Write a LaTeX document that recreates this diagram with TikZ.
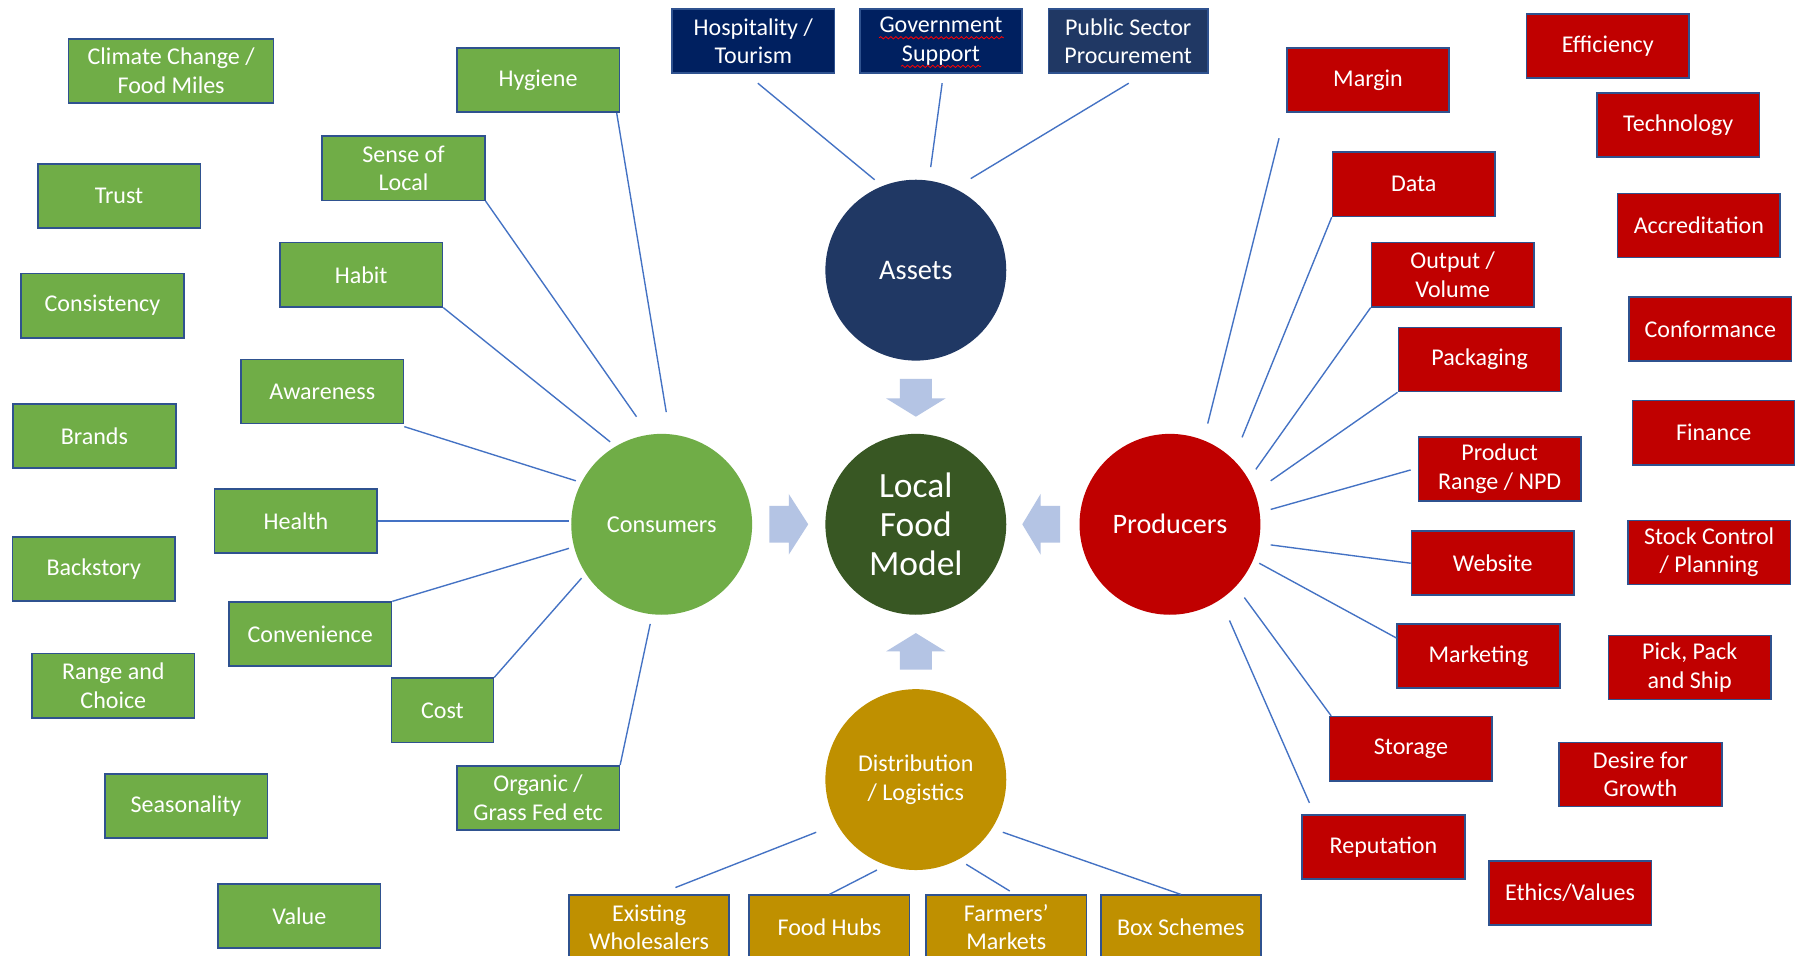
\documentclass[tikz,border=0pt]{standalone}
\usepackage{fontspec}
\setmainfont{Carlito}
\usetikzlibrary{calc,decorations.pathmorphing}
\definecolor{cgreen}{HTML}{70AD47}
\definecolor{cred}{HTML}{C00000}
\definecolor{cgold}{HTML}{BF9000}
\definecolor{cnavy}{HTML}{002060}
\definecolor{cnavyb}{HTML}{203864}
\definecolor{cdkgreen}{HTML}{385723}
\definecolor{boxline}{HTML}{2F528F}
\definecolor{conncol}{HTML}{4472C4}
\definecolor{blockcol}{HTML}{B4C4E4}
\newcommand{\bxfont}{\fontsize{10.5}{12.5}\selectfont}
\tikzset{
  box/.style={rectangle, draw=boxline, line width=0.7pt, text=white, align=center,
    minimum width=71pt, minimum height=28pt, inner sep=1pt, font=\bxfont},
  gbox/.style={box, fill=cgreen},
  rbox/.style={box, fill=cred},
  nbox/.style={box, fill=cnavy},
  ybox/.style={box, fill=cgold},
  hub/.style={circle, minimum size=79pt, inner sep=0pt, text=white, align=center},
  conn/.style={draw=conncol, line width=0.6pt},
  blockarrow/.style={fill=blockcol, draw=none},
  squiggle/.style={draw=red, line width=0.35pt, decorate,
    decoration={snake, segment length=2.2pt, amplitude=0.5pt}}
}
\begin{document}
\begin{tikzpicture}[x=0.5pt,y=-0.5pt]
\useasboundingbox (0,0) rectangle (1568,835);
\clip (0,0) rectangle (1568,835);
\fill[white] (0,0) rectangle (1568,835);

% hubs
\node[hub, fill=cnavyb, font=\fontsize{12.4}{14}\selectfont] (assets) at (800,236) {Assets};
\node[hub, fill=cdkgreen, font=\fontsize{15.5}{17}\selectfont] (model) at (800,458) {Local\\Food\\Model};
\node[hub, fill=cgreen, font=\fontsize{10.6}{12.5}\selectfont] (cons) at (578,458) {Consumers};
\node[hub, fill=cred, font=\fontsize{12.3}{14}\selectfont] (prod) at (1022,458) {Producers};
\node[hub, fill=cgold, font=\bxfont] (dist) at (800,681) {Distribution\\/ Logistics};

% block arrows
\path[blockarrow] (786,331) -- (814,331) -- (814,348) -- (826,348) -- (800,364) -- (774,348) -- (786,348) -- cycle;
\path[blockarrow] (786,585) -- (814,585) -- (814,569) -- (826,569) -- (800,553) -- (774,569) -- (786,569) -- cycle;
\path[blockarrow] (672,442) -- (689,442) -- (689,431.5) -- (706,458) -- (689,484.5) -- (689,474) -- (672,474) -- cycle;
\path[blockarrow] (926,442) -- (909,442) -- (909,431.5) -- (893,458) -- (909,484.5) -- (909,474) -- (926,474) -- cycle;

% top (assets) boxes
\node[nbox] (hosp) at (658,36) {Hospitality /\\Tourism};
\node[nbox] (gov) at (822,36) {Government\\Support};
\node[box, fill=cnavyb, minimum width=69.5pt] (public) at (985.5,36) {Public Sector\\Procurement};
\path[squiggle] ($(gov.center)+(-54,-3)$) -- ($(gov.center)+(55,-3)$);
\path[squiggle] ($(gov.center)+(-35,22)$) -- ($(gov.center)+(35,22)$);

\draw[conn] ($(hosp.south)+(4,8)$) -- ($(assets.center)+(-36,-79)$);
\draw[conn] ($(gov.south)+(1,8)$) -- ($(assets.center)+(13,-90)$);
\draw[conn] ($(public.south)+(0.5,8)$) -- ($(assets.center)+(48,-80)$);

% consumer boxes
\node[gbox, minimum width=89.5pt] (climate) at (149.5,62) {Climate Change /\\Food Miles};
\node[gbox] (hygiene) at (470,70) {Hygiene};
\node[gbox] (sense) at (352.5,147) {Sense of\\Local};
\node[gbox] (trust) at (104,171) {Trust};
\node[gbox] (habit) at (315.5,240) {Habit};
\node[gbox] (consistency) at (89.5,267) {Consistency};
\node[gbox] (awareness) at (281.5,342) {Awareness};
\node[gbox] (brands) at (82.5,381) {Brands};
\node[gbox] (health) at (258.5,455) {Health};
\node[gbox] (backstory) at (82,497) {Backstory};
\node[gbox] (convenience) at (271,554) {Convenience};
\node[gbox] (range) at (99,599) {Range and\\Choice};
\node[gbox, minimum width=44.5pt] (cost) at (386.5,620.5) {Cost};
\node[gbox] (organic) at (470,697) {Organic /\\Grass Fed etc};
\node[gbox] (seasonality) at (162.5,704) {Seasonality};
\node[gbox] (value) at (261.5,800) {Value};

\draw[conn] ($(hygiene.south east)+(-3,0)$) -- ($(cons.center)+(4,-98)$);
\draw[conn] (sense.south east) -- ($(cons.center)+(-22,-94)$);
\draw[conn] (habit.south east) -- ($(cons.center)+(-45,-72)$);
\draw[conn] ($(awareness.south east)+(0,2)$) -- ($(cons.center)+(-75,-38)$);
\draw[conn] (health.east) -- ($(cons.center)+(-81,-3)$);
\draw[conn] (convenience.north east) -- ($(cons.center)+(-81,21)$);
\draw[conn] (cost.north east) -- ($(cons.center)+(-70,47)$);
\draw[conn] (organic.north east) -- ($(cons.center)+(-10,87)$);

% producer boxes
\node[rbox] (margin) at (1195,70) {Margin};
\node[rbox] (efficiency) at (1404.5,40) {Efficiency};
\node[rbox] (technology) at (1466,109) {Technology};
\node[rbox] (data) at (1235,161) {Data};
\node[rbox] (accreditation) at (1484,197) {Accreditation};
\node[rbox] (output) at (1269,240) {Output /\\Volume};
\node[rbox] (conformance) at (1494,287.5) {Conformance};
\node[rbox] (packaging) at (1292.5,314) {Packaging};
\node[rbox] (finance) at (1497,378) {Finance};
\node[rbox] (product) at (1310,409.5) {Product\\Range / NPD};
\node[rbox] (website) at (1304,492) {Website};
\node[rbox] (stock) at (1493,482.5) {Stock Control\\/ Planning};
\node[rbox] (marketing) at (1291.5,573) {Marketing};
\node[rbox] (pick) at (1476,583) {Pick, Pack\\and Ship};
\node[rbox] (storage) at (1232.5,654) {Storage};
\node[rbox] (desire) at (1433,676.5) {Desire for\\Growth};
\node[rbox] (reputation) at (1208.5,740) {Reputation};
\node[rbox] (ethics) at (1371.5,780) {Ethics/Values};

\draw[conn] ($(margin.south west)+(-6,22)$) -- ($(prod.center)+(33,-88)$);
\draw[conn] (data.south west) -- ($(prod.center)+(63,-76)$);
\draw[conn] (output.south west) -- ($(prod.center)+(75,-48)$);
\draw[conn] (packaging.south west) -- ($(prod.center)+(88,-38)$);
\draw[conn] ($(product.west)+(-6,1)$) -- ($(prod.center)+(88,-13)$);
\draw[conn] (website.west) -- ($(prod.center)+(88,18)$);
\draw[conn] ($(marketing.north west)+(0,13)$) -- ($(prod.center)+(78,34)$);
\draw[conn] ($(storage.north west)+(2,0)$) -- ($(prod.center)+(65,64)$);
\draw[conn] ($(reputation.north west)+(7,-10)$) -- ($(prod.center)+(52,84)$);

% distribution boxes
\node[ybox, minimum width=70pt] (exist) at (567,810) {Existing\\Wholesalers};
\node[ybox, minimum width=70pt] (hubs) at (724.5,810) {Food Hubs};
\node[ybox, minimum width=70pt] (farmers) at (879,810) {Farmers’\\Markets};
\node[ybox, minimum width=70pt] (boxes) at (1031.5,810) {Box Schemes};

\draw[conn] ($(exist.north)+(23,-6)$) -- ($(dist.center)+(-87,46)$);
\draw[conn] (hubs.north) -- ($(dist.center)+(-34,79)$);
\draw[conn] ($(farmers.north)+(3,-3)$) -- ($(dist.center)+(44,74)$);
\draw[conn] (boxes.north) -- ($(dist.center)+(76,46)$);
\end{tikzpicture}
\end{document}
